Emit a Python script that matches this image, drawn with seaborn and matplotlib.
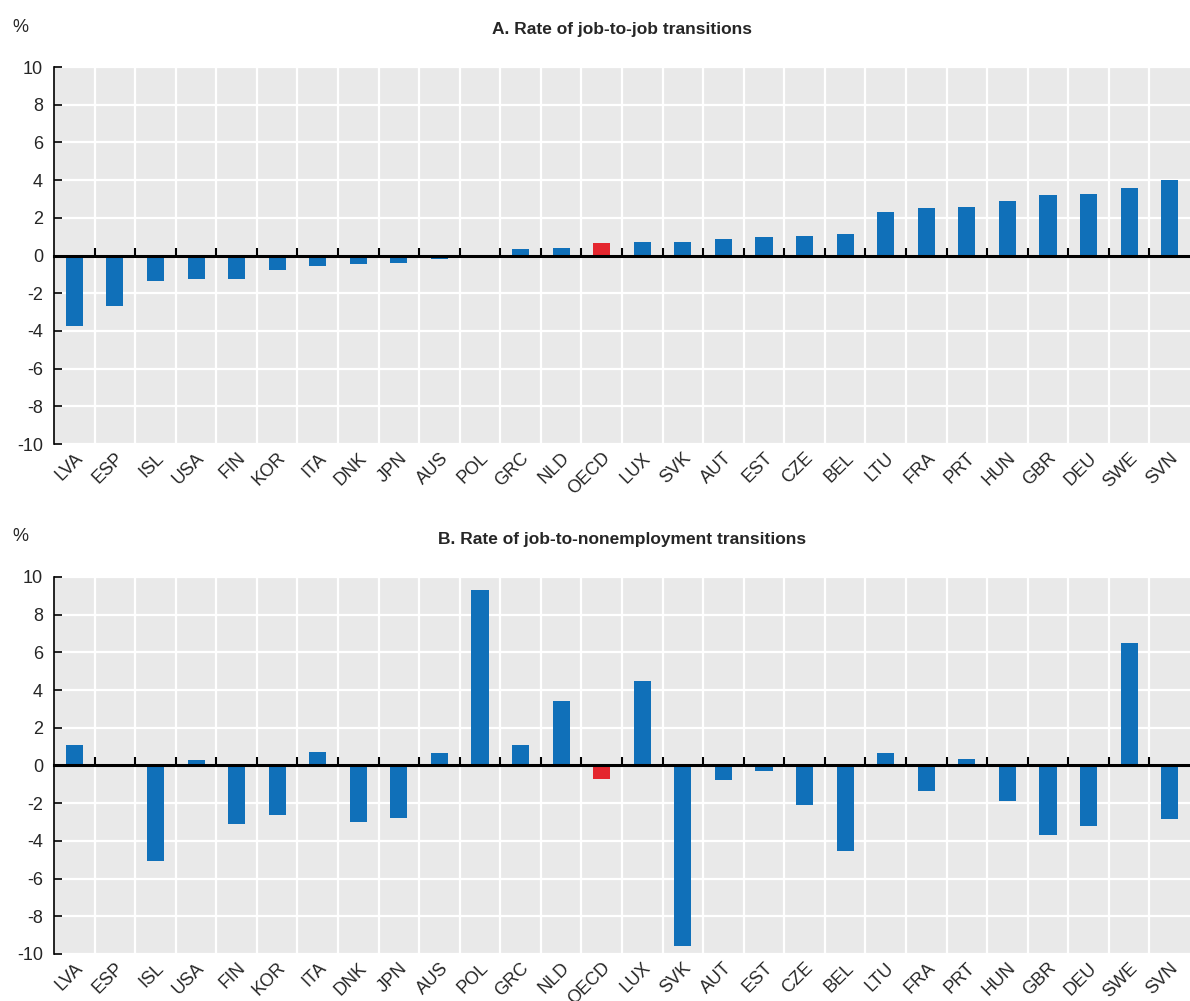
import numpy as np
import pandas as pd
import matplotlib
matplotlib.use("Agg")
import matplotlib.pyplot as plt
from matplotlib.ticker import MultipleLocator, FixedLocator, NullFormatter
import seaborn as sns

countries = ["LVA", "ESP", "ISL", "USA", "FIN", "KOR", "ITA", "DNK", "JPN", "AUS",
             "POL", "GRC", "NLD", "OECD", "LUX", "SVK", "AUT", "EST", "CZE", "BEL",
             "LTU", "FRA", "PRT", "HUN", "GBR", "DEU", "SWE", "SVN"]
job_to_job = [-3.75, -2.7, -1.37, -1.25, -1.25, -0.79, -0.58, -0.47, -0.39, -0.19,
              0.0, 0.33, 0.40, 0.64, 0.70, 0.70, 0.86, 1.0, 1.02, 1.13,
              2.30, 2.52, 2.57, 2.89, 3.20, 3.25, 3.59, 4.02]
job_to_nonemp = [1.11, 0.0, -5.09, 0.28, -3.13, -2.61, 0.71, -3.02, -2.79, 0.67,
                 9.29, 1.11, 3.43, -0.71, 4.49, -9.59, -0.76, -0.27, -2.08, -4.56,
                 0.67, -1.33, 0.32, -1.86, -3.67, -3.23, 6.5, -2.84]
titles = ["A. Rate of job-to-job transitions", "B. Rate of job-to-nonemployment transitions"]

blue = "#1070b9"
red = "#e4262e"
bg = "#e9e9e9"
palette = [red if c == "OECD" else blue for c in countries]

sns.set_style("white")
plt.rcParams["font.family"] = ["Liberation Sans Narrow", "Liberation Sans", "DejaVu Sans"]
plt.rcParams["font.size"] = 12
plt.rcParams["axes.unicode_minus"] = False

fig = plt.figure(figsize=(11.9, 10.01), dpi=100)
positions = [[0.0454, 0.5564, 0.9546, 0.3766], [0.0454, 0.0470, 0.9546, 0.3766]]

for pos, vals, title in zip(positions, [job_to_job, job_to_nonemp], titles):
    ax = fig.add_axes(pos)
    df = pd.DataFrame({"country": countries, "value": vals})
    sns.barplot(data=df, x="country", y="value", hue="country", palette=palette,
                legend=False, width=0.42, saturation=1, linewidth=0, ax=ax, zorder=3)
    ax.set_facecolor(bg)
    n = len(countries)
    ax.set_xlim(-0.5, n - 0.5)
    ax.set_ylim(-10, 10)
    ax.yaxis.set_major_locator(MultipleLocator(2))
    ax.xaxis.set_minor_locator(FixedLocator(np.arange(0.5, n - 0.5, 1)))
    ax.grid(axis="y", which="major", color="white", lw=1.6, zorder=0)
    ax.grid(axis="x", which="minor", color="white", lw=1.6, zorder=0)
    ax.grid(axis="x", which="major", visible=False)
    ax.set_axisbelow(True)
    for s in ["top", "right", "bottom"]:
        ax.spines[s].set_visible(False)
    ax.spines["left"].set_color("black")
    ax.spines["left"].set_linewidth(1.2)
    ax.tick_params(axis="y", direction="in", length=6, width=1.2, color="black",
                   labelsize=13, pad=8, left=True)
    ax.tick_params(axis="x", which="both", length=0, labelsize=13, pad=4)
    ax.set_xticks(range(n))
    ax.set_xticklabels(countries, rotation=45, ha="right", rotation_mode="anchor")
    ax.set_xlabel("")
    ax.set_ylabel("")
    ax.set_title(title, fontsize=12.5, fontweight="bold", pad=24)
    ax.annotate("%", xy=(0, 1), xycoords="axes fraction", xytext=(-34, 40),
                textcoords="offset pixels", ha="center", va="center", fontsize=13)

    # zero line with category boundary ticks
    zero = ax.secondary_xaxis(0.5)
    zero.set_zorder(5)
    zero.spines["top"].set_color("black")
    zero.spines["top"].set_linewidth(2.2)
    zero.set_xticks(np.arange(0.5, n - 0.5, 1))
    zero.xaxis.set_major_formatter(NullFormatter())
    zero.tick_params(axis="x", direction="out", length=6, width=1.5, color="black")

fig.savefig("out.png", dpi=100)
